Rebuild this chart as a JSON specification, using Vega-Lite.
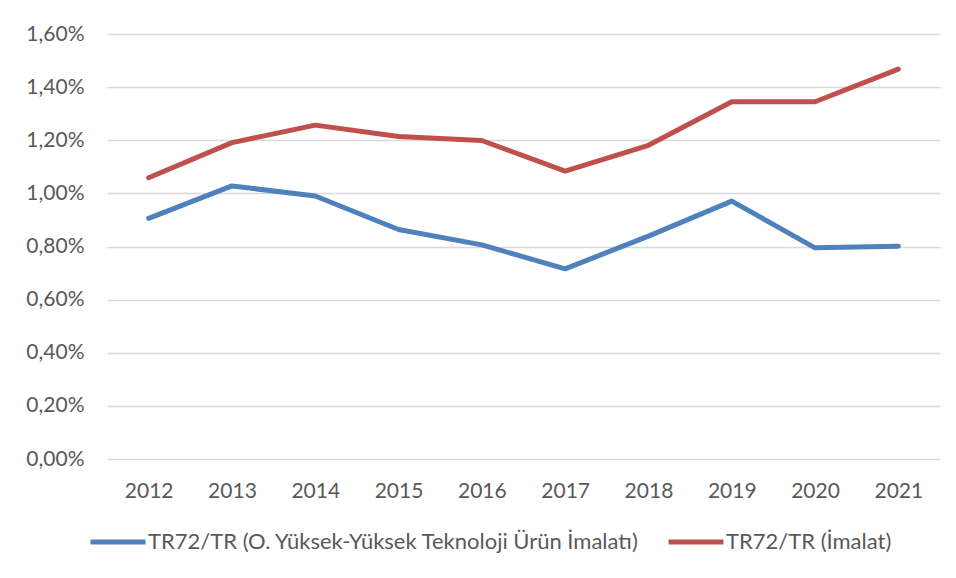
{
  "$schema": "https://vega.github.io/schema/vega-lite/v6.json",
  "width": 833,
  "height": 425,
  "autosize": {"type": "none"},
  "padding": {"left": 107, "top": 34, "right": 16, "bottom": 119},
  "background": "white",
  "data": {
    "values": [
      {"year": "2012", "series": "TR72/TR (O. Yüksek-Yüksek Teknoloji Ürün İmalatı)", "value": 0.00906},
      {"year": "2013", "series": "TR72/TR (O. Yüksek-Yüksek Teknoloji Ürün İmalatı)", "value": 0.01028},
      {"year": "2014", "series": "TR72/TR (O. Yüksek-Yüksek Teknoloji Ürün İmalatı)", "value": 0.0099},
      {"year": "2015", "series": "TR72/TR (O. Yüksek-Yüksek Teknoloji Ürün İmalatı)", "value": 0.00864},
      {"year": "2016", "series": "TR72/TR (O. Yüksek-Yüksek Teknoloji Ürün İmalatı)", "value": 0.00806},
      {"year": "2017", "series": "TR72/TR (O. Yüksek-Yüksek Teknoloji Ürün İmalatı)", "value": 0.00716},
      {"year": "2018", "series": "TR72/TR (O. Yüksek-Yüksek Teknoloji Ürün İmalatı)", "value": 0.00839},
      {"year": "2019", "series": "TR72/TR (O. Yüksek-Yüksek Teknoloji Ürün İmalatı)", "value": 0.00971},
      {"year": "2020", "series": "TR72/TR (O. Yüksek-Yüksek Teknoloji Ürün İmalatı)", "value": 0.00795},
      {"year": "2021", "series": "TR72/TR (O. Yüksek-Yüksek Teknoloji Ürün İmalatı)", "value": 0.00801},
      {"year": "2012", "series": "TR72/TR (İmalat)", "value": 0.01059},
      {"year": "2013", "series": "TR72/TR (İmalat)", "value": 0.01191},
      {"year": "2014", "series": "TR72/TR (İmalat)", "value": 0.01257},
      {"year": "2015", "series": "TR72/TR (İmalat)", "value": 0.01214},
      {"year": "2016", "series": "TR72/TR (İmalat)", "value": 0.01199},
      {"year": "2017", "series": "TR72/TR (İmalat)", "value": 0.01084},
      {"year": "2018", "series": "TR72/TR (İmalat)", "value": 0.01181},
      {"year": "2019", "series": "TR72/TR (İmalat)", "value": 0.01345},
      {"year": "2020", "series": "TR72/TR (İmalat)", "value": 0.01345},
      {"year": "2021", "series": "TR72/TR (İmalat)", "value": 0.01468}
    ]
  },
  "mark": {"type": "line", "strokeWidth": 5, "strokeCap": "round", "strokeJoin": "round"},
  "encoding": {
    "x": {
      "field": "year",
      "type": "ordinal",
      "scale": {"type": "point", "padding": 0.5},
      "axis": {
        "title": null,
        "labelAngle": 0,
        "domain": false,
        "ticks": false,
        "grid": false,
        "labelPadding": 21,
        "labelFont": "Lato",
        "labelFontSize": 21,
        "labelColor": "#595959"
      }
    },
    "y": {
      "field": "value",
      "type": "quantitative",
      "scale": {"domain": [0, 0.016], "nice": false},
      "axis": {
        "title": null,
        "values": [0, 0.002, 0.004, 0.006, 0.008, 0.01, 0.012, 0.014, 0.016],
        "labelExpr": "replace(format(datum.value, '.2%'), '.', ',')",
        "domain": false,
        "ticks": false,
        "labelPadding": 23,
        "labelFont": "Lato",
        "labelFontSize": 21,
        "labelColor": "#595959",
        "gridColor": "#d9d9d9",
        "gridWidth": 1.5
      }
    },
    "color": {
      "field": "series",
      "type": "nominal",
      "scale": {
        "domain": ["TR72/TR (O. Yüksek-Yüksek Teknoloji Ürün İmalatı)", "TR72/TR (İmalat)"],
        "range": ["#4F81BD", "#C0504D"]
      },
      "legend": {
        "title": null,
        "orient": "none",
        "direction": "horizontal",
        "legendX": -19,
        "legendY": 478,
        "symbolType": "stroke",
        "symbolSize": 3025,
        "symbolStrokeWidth": 5,
        "labelOffset": 0,
        "columnPadding": 18,
        "labelFont": "Lato",
        "labelFontSize": 22,
        "labelColor": "#595959",
        "labelLimit": 700
      }
    }
  },
  "config": {"view": {"stroke": null}}
}
